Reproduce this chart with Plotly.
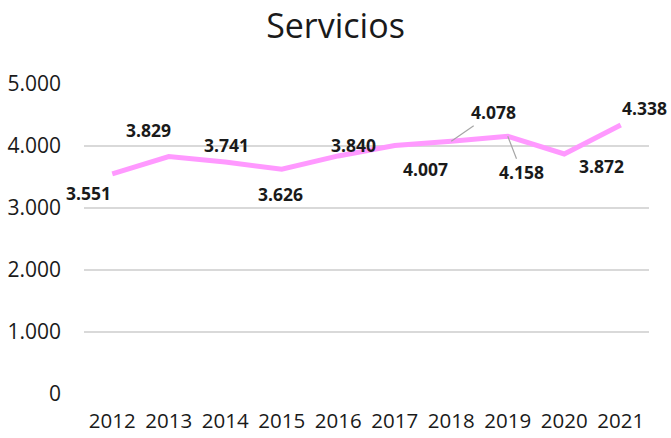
import plotly.graph_objects as go

years = ["2012", "2013", "2014", "2015", "2016", "2017", "2018", "2019", "2020", "2021"]
servicios = [3551, 3829, 3741, 3626, 3840, 4007, 4078, 4158, 3872, 4338]

# pixel offsets of each value label relative to its point
label_dx = [-24, -20, 1, -1, 15, 31, 42, 14, 37, 24]
label_dy = [-19, 27, 17, -25, 11, -23, 29, -36, -12, 17]

FONT = "'Open Sans', 'Noto Sans', sans-serif"


def fmt(v):
    return f"{v:,}".replace(",", ".")


fig = go.Figure()
fig.add_trace(go.Scatter(
    x=years, y=servicios, mode="lines",
    line=dict(color="#FF99FF", width=5),
    hoverinfo="skip", showlegend=False,
))

for i, v in enumerate(servicios):
    leader = years[i] in ("2018", "2019")
    ann = dict(
        x=i, y=v, xref="x", yref="y", text="<b>" + fmt(v) + "</b>",
        font=dict(family=FONT, size=17.5, color="#1a1a1a"),
    )
    if leader:
        ann.update(showarrow=True, arrowhead=0, arrowwidth=1.2, arrowcolor="#a6a6a6",
                   ax=label_dx[i], ay=-label_dy[i], standoff=0)
    else:
        ann.update(showarrow=False, xshift=label_dx[i], yshift=label_dy[i])
    fig.add_annotation(**ann)

fig.update_layout(
    width=671, height=438,
    margin=dict(l=84, r=22, t=84, b=44),
    paper_bgcolor="white", plot_bgcolor="white",
    separators=",.",
    title=dict(text="Servicios", x=0.5, xanchor="center", y=0.94, yanchor="middle",
               font=dict(family=FONT, size=34, color="#1a1a1a")),
    font=dict(family=FONT, color="#1a1a1a"),
    xaxis=dict(type="category", range=[-0.5, 9.5], showgrid=False, showline=False,
               ticks="", ticklabelstandoff=12, tickfont=dict(size=20.5),
               automargin=False),
    yaxis=dict(range=[0, 5000], dtick=1000, tickformat=",", showgrid=True,
               gridcolor="#d9d9d9", gridwidth=1.5, zeroline=False, showline=False,
               ticks="", ticklabelstandoff=22, tickfont=dict(size=21),
               automargin=False),
)

fig.write_html("out.html")
